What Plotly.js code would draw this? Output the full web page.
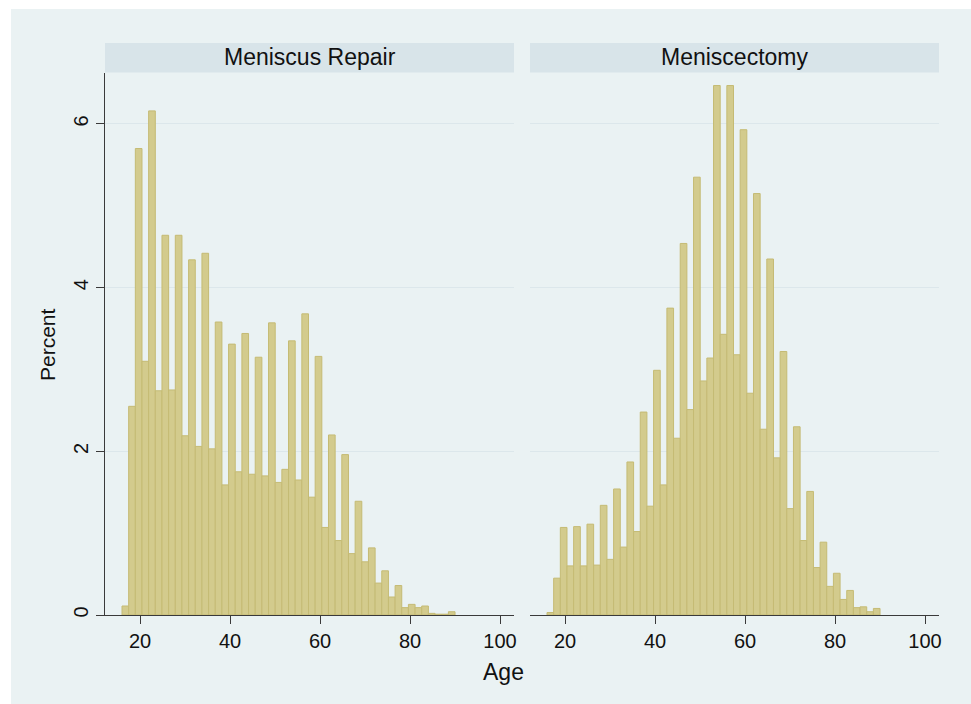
<!DOCTYPE html>
<html>
<head>
<meta charset="utf-8">
<script src="https://cdn.plot.ly/plotly-3.0.1.min.js"></script>
<style>
html,body{margin:0;padding:0;background:#ffffff;}
#chart{width:971px;height:704px;}
</style>
</head>
<body>
<div id="chart"></div>
<script>
// Bin centres (age), bin width 1.48 years
const ageBins = [16.74,18.22,19.70,21.18,22.66,24.14,25.62,27.10,28.58,30.06,
  31.54,33.02,34.50,35.98,37.46,38.94,40.42,41.90,43.38,44.86,
  46.34,47.82,49.30,50.78,52.26,53.74,55.22,56.70,58.18,59.66,
  61.14,62.62,64.10,65.58,67.06,68.54,70.02,71.50,72.98,74.46,
  75.94,77.42,78.90,80.38,81.86,83.34,84.82,86.30,87.78,89.26];
const binWidth = 1.48;

const repairPct = [0.11,2.55,5.70,3.10,6.16,2.74,4.64,2.75,4.64,2.19,
  4.34,2.06,4.42,2.03,3.58,1.59,3.31,1.75,3.44,1.72,
  3.15,1.70,3.57,1.62,1.78,3.35,1.65,3.68,1.44,3.16,
  1.07,2.20,0.91,1.96,0.75,1.39,0.65,0.82,0.39,0.54,
  0.22,0.36,0.09,0.13,0.09,0.11,0.02,0.01,0.01,0.04];

const meniscectomyPct = [0.03,0.45,1.07,0.60,1.08,0.60,1.11,0.61,1.34,0.68,
  1.54,0.83,1.87,1.02,2.48,1.33,2.99,1.59,3.75,2.16,
  4.54,2.51,5.35,2.86,3.14,6.47,3.43,6.47,3.18,5.93,
  2.71,5.15,2.27,4.35,1.92,3.22,1.30,2.30,0.91,1.51,
  0.58,0.89,0.35,0.51,0.19,0.30,0.09,0.10,0.04,0.08];

const panelLabels = ["Meniscus Repair", "Meniscectomy"];
const xTicks = [20,40,60,80,100];
const yTicks = [0,2,4,6];

const W = 971, H = 704;
const px = v => v / W;
const py = v => 1 - v / H;

const barStyle = {
  type: 'bar',
  width: binWidth,
  marker: {color: '#D3CB8D', line: {color: '#C5BB74', width: 1}},
  hoverinfo: 'x+y',
  showlegend: false
};

const traces = [
  Object.assign({}, barStyle, {x: ageBins, y: repairPct, xaxis: 'x', yaxis: 'y'}),
  Object.assign({}, barStyle, {x: ageBins, y: meniscectomyPct, xaxis: 'x2', yaxis: 'y2'})
];

const font = {family: 'Liberation Sans, Arial, sans-serif', color: '#111'};
const gridColor = '#DCE7EB';
const axisColor = '#3a3a3a';

const xCommon = {
  range: [12.22, 103.1],
  tickvals: xTicks,
  ticks: 'outside', ticklen: 8, tickwidth: 1, tickcolor: axisColor,
  showline: true, linecolor: axisColor, linewidth: 1,
  showgrid: false, zeroline: false,
  tickfont: Object.assign({size: 20}, font),
  fixedrange: true
};
const yDomain = [py(615), py(73)];

const layout = {
  width: W, height: H,
  margin: {l: 0, r: 0, t: 0, b: 0},
  paper_bgcolor: '#ffffff',
  plot_bgcolor: '#ffffff',
  bargap: 0,
  font: font,
  xaxis: Object.assign({}, xCommon, {domain: [px(105), px(514)], anchor: 'y'}),
  xaxis2: Object.assign({}, xCommon, {domain: [px(530), px(939)], anchor: 'y2'}),
  yaxis: {
    domain: yDomain, anchor: 'x',
    range: [0, 6.623], tickvals: yTicks,
    ticks: 'outside', ticklen: 8, tickwidth: 1, tickcolor: axisColor,
    tickangle: -90,
    showline: true, linecolor: axisColor, linewidth: 1,
    showgrid: true, gridcolor: gridColor, gridwidth: 1,
    zeroline: false,
    tickfont: Object.assign({size: 20}, font),
    fixedrange: true
  },
  yaxis2: {
    domain: yDomain, anchor: 'x2',
    range: [0, 6.623], tickvals: yTicks,
    ticks: '', showticklabels: false,
    showline: false,
    showgrid: true, gridcolor: gridColor, gridwidth: 1,
    zeroline: false,
    fixedrange: true
  },
  shapes: [
    {type: 'rect', xref: 'paper', yref: 'paper', x0: px(11), x1: px(971), y0: py(704), y1: py(9),
     fillcolor: '#EAF2F3', line: {width: 0}, layer: 'below'},
    {type: 'rect', xref: 'paper', yref: 'paper', x0: px(105), x1: px(514), y0: py(72.5), y1: py(43),
     fillcolor: '#D8E4E9', line: {width: 0}, layer: 'below'},
    {type: 'rect', xref: 'paper', yref: 'paper', x0: px(530), x1: px(939), y0: py(72.5), y1: py(43),
     fillcolor: '#D8E4E9', line: {width: 0}, layer: 'below'}
  ],
  annotations: [
    {text: panelLabels[0], xref: 'paper', yref: 'paper', x: px(309.5), y: py(57.5),
     xanchor: 'center', yanchor: 'middle', showarrow: false, font: Object.assign({size: 23}, font)},
    {text: panelLabels[1], xref: 'paper', yref: 'paper', x: px(734.5), y: py(57.5),
     xanchor: 'center', yanchor: 'middle', showarrow: false, font: Object.assign({size: 23}, font)},
    {text: 'Age', xref: 'paper', yref: 'paper', x: px(503.5), y: py(672),
     xanchor: 'center', yanchor: 'middle', showarrow: false, font: Object.assign({size: 23}, font)},
    {text: 'Percent', xref: 'paper', yref: 'paper', x: px(48), y: py(345),
     xanchor: 'center', yanchor: 'middle', textangle: -90, showarrow: false, font: Object.assign({size: 21}, font)}
  ]
};

Plotly.newPlot('chart', traces, layout, {displayModeBar: false, staticPlot: true});
</script>
</body>
</html>
